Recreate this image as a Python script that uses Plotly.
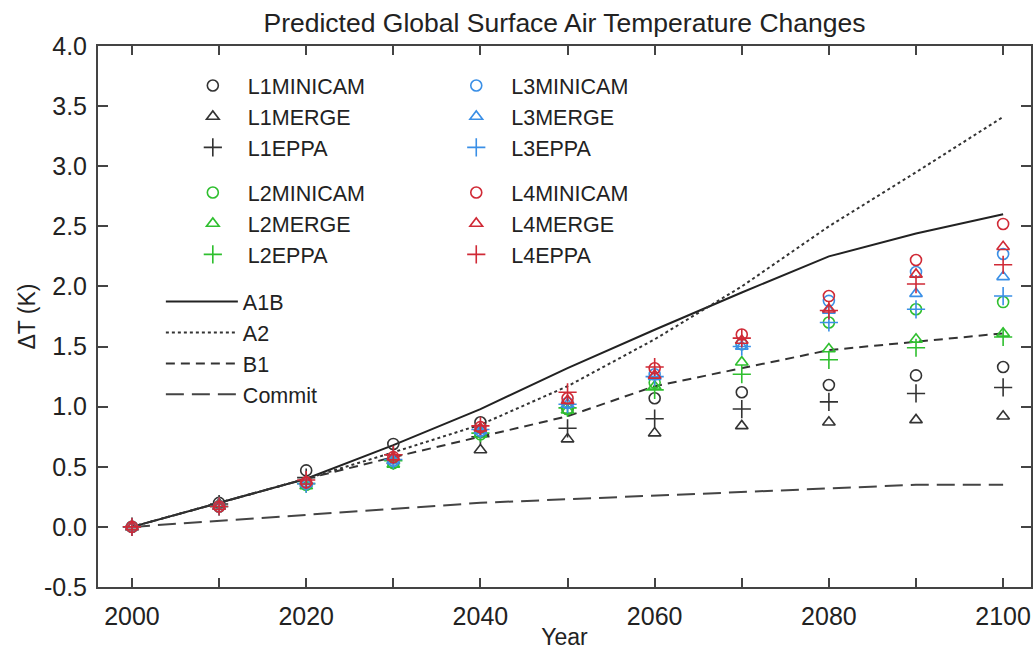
import plotly.graph_objects as go

years = [2000, 2010, 2020, 2030, 2040, 2050, 2060, 2070, 2080, 2090, 2100]

# Scenario lines
A1B = [0.0, 0.2, 0.40, 0.68, 0.98, 1.32, 1.64, 1.95, 2.25, 2.44, 2.60]
A2 = [0.0, 0.2, 0.40, 0.62, 0.85, 1.17, 1.56, 2.00, 2.50, 2.95, 3.41]
B1 = [0.0, 0.2, 0.40, 0.58, 0.75, 0.92, 1.17, 1.32, 1.47, 1.54, 1.61]
Commit = [0.0, 0.05, 0.10, 0.15, 0.20, 0.23, 0.26, 0.29, 0.32, 0.35, 0.35]

# Model points
L1MINICAM = [0, 0.20, 0.47, 0.69, 0.87, 0.98, 1.07, 1.12, 1.18, 1.26, 1.33]
L1MERGE = [0, 0.19, 0.38, 0.55, 0.64, 0.73, 0.78, 0.84, 0.87, 0.89, 0.92]
L1EPPA = [0, 0.19, 0.41, 0.60, 0.75, 0.82, 0.90, 0.98, 1.04, 1.11, 1.16]
L2MINICAM = [0, 0.17, 0.35, 0.53, 0.77, 0.98, 1.20, 1.52, 1.70, 1.81, 1.87]
L2MERGE = [0, 0.17, 0.34, 0.52, 0.77, 0.97, 1.17, 1.37, 1.48, 1.56, 1.61]
L2EPPA = [0, 0.17, 0.36, 0.55, 0.78, 0.99, 1.14, 1.27, 1.39, 1.49, 1.58]
L3MINICAM = [0, 0.17, 0.36, 0.55, 0.80, 1.03, 1.27, 1.52, 1.88, 2.12, 2.27]
L3MERGE = [0, 0.17, 0.36, 0.55, 0.80, 1.02, 1.25, 1.50, 1.80, 1.94, 2.08]
L3EPPA = [0, 0.17, 0.36, 0.56, 0.81, 1.02, 1.25, 1.50, 1.70, 1.81, 1.92]
L4MINICAM = [0, 0.17, 0.37, 0.58, 0.83, 1.07, 1.32, 1.60, 1.92, 2.22, 2.52]
L4MERGE = [0, 0.17, 0.38, 0.58, 0.82, 1.05, 1.26, 1.55, 1.81, 2.10, 2.33]
L4EPPA = [0, 0.17, 0.39, 0.60, 0.84, 1.12, 1.33, 1.57, 1.80, 2.02, 2.18]

x_tickvals = list(range(2000, 2101, 10))
x_ticktext = [str(v) if v % 20 == 0 else "" for v in x_tickvals]
y_tickvals = [-0.5, 0.0, 0.5, 1.0, 1.5, 2.0, 2.5, 3.0, 3.5, 4.0]
y_ticktext = ["-0.5", "0.0", "0.5", "1.0", "1.5", "2.0", "2.5", "3.0", "3.5", "4.0"]

FONT = "Liberation Sans, Arial, sans-serif"
TXT = "#222222"
fig = go.Figure()

lines = [
    ("A1B", A1B, "solid", "#222222"),
    ("A2", A2, "dot", "#333333"),
    ("B1", B1, "9px,6px", "#333333"),
    ("Commit", Commit, "18px,8px", "#444444"),
]
for name, vals, dash, col in lines:
    fig.add_trace(go.Scatter(x=years, y=vals, mode="lines", name=name,
                             line=dict(color=col, width=2, dash=dash),
                             legend="legend5"))

groups = [
    ("legend", "#333333", [("L1MINICAM", L1MINICAM), ("L1MERGE", L1MERGE), ("L1EPPA", L1EPPA)]),
    ("legend2", "#2fbf2f", [("L2MINICAM", L2MINICAM), ("L2MERGE", L2MERGE), ("L2EPPA", L2EPPA)]),
    ("legend3", "#3a8fe6", [("L3MINICAM", L3MINICAM), ("L3MERGE", L3MERGE), ("L3EPPA", L3EPPA)]),
    ("legend4", "#d02a36", [("L4MINICAM", L4MINICAM), ("L4MERGE", L4MERGE), ("L4EPPA", L4EPPA)]),
]
symbols = ["circle-open", "triangle-up-open", "cross-thin-open"]
for leg, col, items in groups:
    for (name, vals), sym in zip(items, symbols):
        fig.add_trace(go.Scatter(x=years, y=vals, mode="markers", name=name,
                                 marker=dict(symbol=sym, size=11 if sym != "cross-thin-open" else 13,
                                             color=col, line=dict(color=col, width=1.6)),
                                 legend=leg))

leg_common = dict(font=dict(family=FONT, size=21.5, color=TXT), bgcolor="rgba(0,0,0,0)",
                  xanchor="left", yanchor="top", tracegroupgap=0, itemwidth=60)

def py(pix):
    return (587 - pix) / 541.0

def px(pix):
    return (pix - 98) / 935.0

fig.update_layout(
    width=1035, height=654,
    margin=dict(l=98, r=2, t=46, b=67),
    paper_bgcolor="white", plot_bgcolor="white",
    title=dict(text="Predicted Global Surface Air Temperature Changes",
               font=dict(family=FONT, size=26.5, color=TXT),
               xref="paper", x=0.5, xanchor="center", y=0.966, yanchor="middle"),
    font=dict(family=FONT, color=TXT),
    legend=dict(x=px(178), y=py(65), **leg_common),
    legend2=dict(x=px(178), y=py(172), **leg_common),
    legend3=dict(x=px(442), y=py(65), **leg_common),
    legend4=dict(x=px(442), y=py(172), **leg_common),
    legend5=dict(x=px(161), y=py(281), **dict(leg_common, itemwidth=72)),
    xaxis=dict(range=[1996.1, 2103.2], tickvals=x_tickvals, ticktext=x_ticktext,
               ticks="inside", ticklen=9, tickwidth=1.5, tickcolor="#444444",
               showline=True, linecolor="#444444", linewidth=2, mirror="ticks",
               showgrid=False, zeroline=False, ticklabelstandoff=6,
               tickfont=dict(family=FONT, size=25, color=TXT),
               title=dict(text="Year", font=dict(family=FONT, size=23, color=TXT), standoff=0)),
    yaxis=dict(range=[-0.5, 4.0], tickvals=y_tickvals, ticktext=y_ticktext,
               ticks="inside", ticklen=10, tickwidth=1.5, tickcolor="#444444",
               showline=True, linecolor="#444444", linewidth=2, mirror="ticks",
               showgrid=False, zeroline=False, ticklabelstandoff=4,
               tickfont=dict(family=FONT, size=25, color=TXT),
               title=dict(text="ΔT (K)", font=dict(family=FONT, size=23, color=TXT), standoff=2)),
)

fig.write_html("out.html", post_script="document.body.style.margin='0';",
               config={"displayModeBar": False})
